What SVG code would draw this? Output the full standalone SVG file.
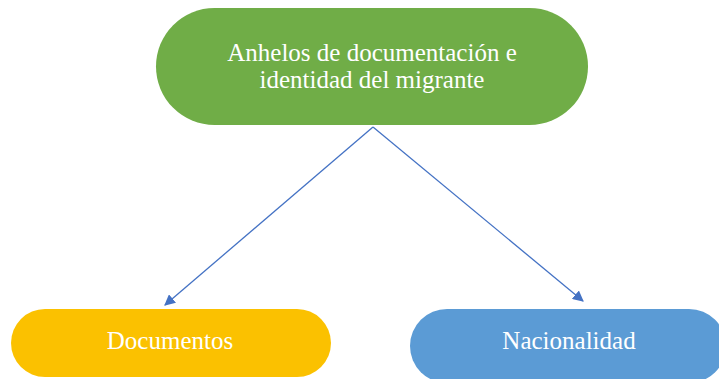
<svg xmlns="http://www.w3.org/2000/svg" width="719" height="379" viewBox="0 0 719 379">
<style>
text{font-family:"Liberation Serif","Times New Roman",serif;fill:#fff;text-anchor:middle;font-size:25px}
.c{stroke:#4472C4;stroke-width:1.3;fill:none}
</style>
<defs>
<marker id="ah" viewBox="0 0 10 10" refX="9" refY="5" markerWidth="11" markerHeight="11" markerUnits="userSpaceOnUse" orient="auto">
<path d="M0,0 L10,5 L0,10 z" fill="#4472C4"/>
</marker>
</defs>
<rect width="719" height="379" fill="#fff"/>
<g id="connectors">
<path class="c" d="M373,127 L165,305" marker-end="url(#ah)"/>
<path class="c" d="M373,127 L583,301" marker-end="url(#ah)"/>
</g>
<g id="top">
<rect x="156" y="8" width="432" height="117" rx="58.5" fill="#70AD47"/>
<text x="372" y="61">Anhelos de documentación e</text>
<text x="372" y="88">identidad del migrante</text>
</g>
<g id="documentos">
<rect x="11" y="309" width="320" height="68" rx="34" fill="#FBC100"/>
<text x="170" y="349">Documentos</text>
</g>
<g id="nacionalidad">
<rect x="410" y="309" width="316" height="74" rx="37" fill="#5B9BD5"/>
<text x="569" y="349">Nacionalidad</text>
</g>
</svg>
